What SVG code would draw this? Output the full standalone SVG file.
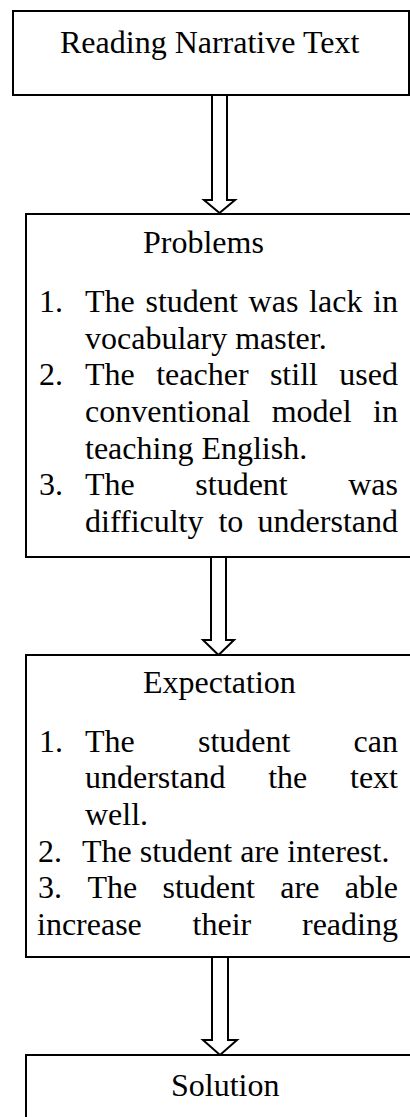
<svg xmlns="http://www.w3.org/2000/svg" width="410" height="1117" viewBox="0 0 410 1117">
<style>
.box{fill:#fff;stroke:#000;stroke-width:2}
.arr{fill:#fff;stroke:#000;stroke-width:2;stroke-linejoin:miter}
text{font-family:"Liberation Serif","Times New Roman",serif;font-size:32px;fill:#000}
</style>
<rect width="410" height="1117" fill="#fff"/>
<g id="connectors">
<polygon class="arr" points="212,95 227,95 227,200 235,200 219.5,213 204,200 212,200"/>
<polygon class="arr" points="211,557 226,557 226,640 234,640 218.5,655 203,640 211,640"/>
<polygon class="arr" points="212,957 228,957 228,1040 237,1040 220,1055 203,1040 212,1040"/>
</g>
<g id="reading">
<rect class="box" x="13" y="11" width="396" height="84"/>
<text x="60" y="53">Reading Narrative Text</text>
</g>
<g id="problems">
<rect class="box" x="26" y="214" width="400" height="343"/>
<text x="143" y="253">Problems</text>
<text y="312"><tspan x="39">1.</tspan><tspan x="85">The</tspan><tspan x="145.5">student</tspan><tspan x="248.6">was</tspan><tspan x="309.1">lack</tspan><tspan x="373.1">in</tspan></text>
<text x="85" y="348.7">vocabulary master.</text>
<text y="385.3"><tspan x="39">2.</tspan><tspan x="85">The</tspan><tspan x="156.2">teacher</tspan><tspan x="269.9">still</tspan><tspan x="339.3">used</tspan></text>
<text y="422"><tspan x="85">conventional</tspan><tspan x="271.7">model</tspan><tspan x="373.1">in</tspan></text>
<text x="85" y="458.7">teaching English.</text>
<text y="495.3"><tspan x="39">3.</tspan><tspan x="85">The</tspan><tspan x="195.3">student</tspan><tspan x="348.2">was</tspan></text>
<text y="532"><tspan x="85">difficulty</tspan><tspan x="218.4">to</tspan><tspan x="257.6">understand</tspan></text>
</g>
<g id="expectation">
<rect class="box" x="26" y="655" width="400" height="302"/>
<text x="143" y="693">Expectation</text>
<text y="751.7"><tspan x="39">1.</tspan><tspan x="85">The</tspan><tspan x="198">student</tspan><tspan x="353.6">can</tspan></text>
<text y="788.3"><tspan x="85">understand</tspan><tspan x="268.2">the</tspan><tspan x="350">text</tspan></text>
<text x="85" y="825">well.</text>
<text y="861.7"><tspan x="38">2.</tspan><tspan x="82">The student are interest.</tspan></text>
<text y="898.3"><tspan x="38">3.</tspan><tspan x="87.4">The</tspan><tspan x="162.5">student</tspan><tspan x="280.3">are</tspan><tspan x="344.7">able</tspan></text>
<text y="935"><tspan x="37">increase</tspan><tspan x="192.6">their</tspan><tspan x="302">reading</tspan></text>
</g>
<g id="solution">
<rect class="box" x="26" y="1055" width="400" height="80"/>
<text x="171" y="1096">Solution</text>
</g>
</svg>
